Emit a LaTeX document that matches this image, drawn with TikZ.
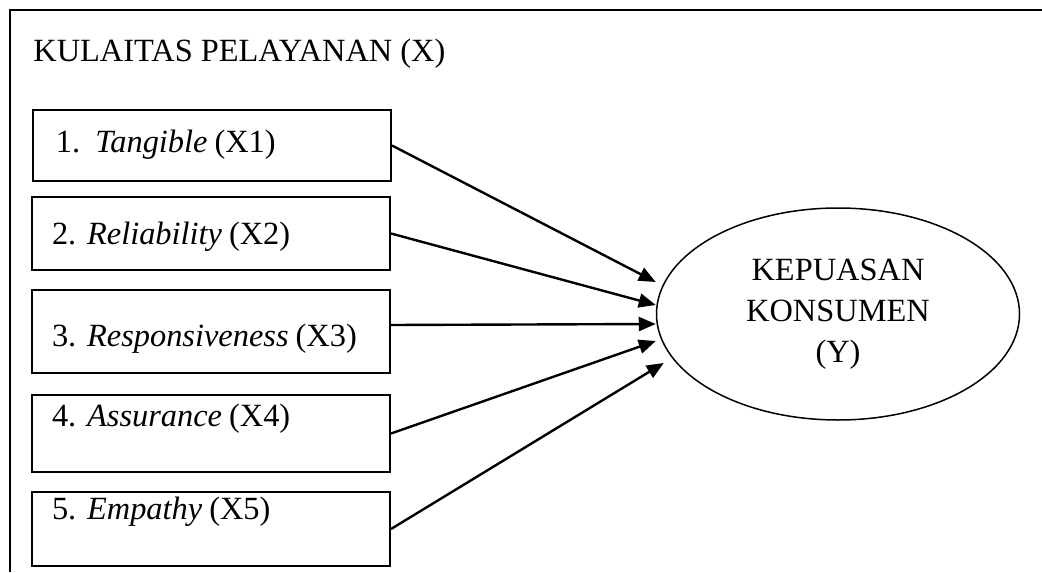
\documentclass[tikz,border=0pt]{standalone}
\usepackage{fontspec}
\setmainfont{Liberation Serif}
\usetikzlibrary{arrows.meta,shapes.geometric}
\frenchspacing
\newcommand{\dimensi}[2]{{\itshape #1}\hspace{3.5pt}(#2)}

\begin{document}
\begin{tikzpicture}[x=0.5pt, y=-0.5pt,
		every node/.style={font=\fontsize{16.2}{20.5}\selectfont},
		itembox/.style={draw, line width=1pt, anchor=north west, inner xsep=10pt, inner ysep=0pt, text width=159pt, align=left},
		link/.style={line width=1.2pt, -{Triangle[length=8.5pt,width=7pt]}}]
		%%%%% START %%%%%
		\useasboundingbox (0, 0) rectangle (1042, 572);
		\draw[line width=1pt] (10, 572) -- (10, 10) -- (1042, 10);
		
		\node[anchor=base west, inner sep=0pt] (judul) at (33, 62) {KULAITAS PELAYANAN (X)};
		
		\node[itembox, text height=21.5pt, text depth=14pt] (x1) at (32, 109) {\hspace{1.5pt}1.\hspace{7.5pt}\dimensi{Tangible}{X1}};
		\node[itembox, text height=23.5pt, text depth=13pt] (x2) at (31, 196) {2. \dimensi{Reliability}{X2}};
		\node[itembox, text height=28pt, text depth=13.5pt] (x3) at (31, 289) {3. \dimensi{Responsiveness}{X3}};
		\node[itembox, text height=15.5pt, text depth=23pt] (x4) at (31, 394) {4. \dimensi{Assurance}{X4}};
		\node[itembox, text height=13.5pt, text depth=23.5pt] (x5) at (31, 491) {5. \dimensi{Empathy}{X5}};
		
		\node[ellipse, draw, line width=0.75pt, inner sep=0pt, minimum width=181.5pt, minimum height=106pt, align=center] (ky) at (838, 314) {KEPUASAN\\KONSUMEN\\(Y)};
		
		\draw[link] (x1.east) -- ([yshift=16pt]ky.west);
		\draw[link] (x2.east) -- ([yshift=4.5pt]ky.west);
		\draw[link] ([yshift=3.25pt]x3.east) -- ([yshift=-5pt]ky.west);
		\draw[link] (x4.east) -- ([yshift=-13.5pt]ky.west);
		\draw[link] (x5.east) -- ([xshift=4pt, yshift=-24.5pt]ky.west);
		%%%%% END %%%%%
\end{tikzpicture}
\end{document}
